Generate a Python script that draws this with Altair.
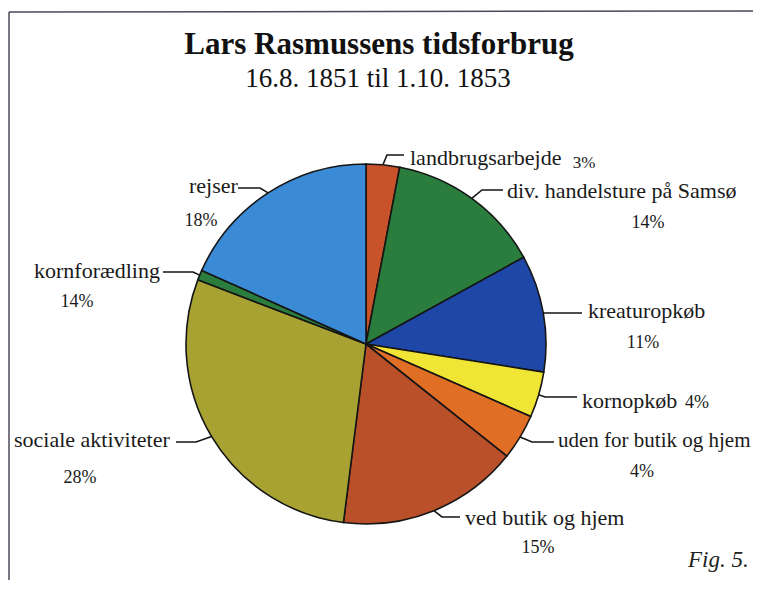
import math
import altair as alt
import pandas as pd

# ---------------- data ----------------
categories = ["landbrugsarbejde", "div. handelsture på Samsø", "kreaturopkøb", "kornopkøb",
              "uden for butik og hjem", "ved butik og hjem", "sociale aktiviteter",
              "kornforædling", "rejser"]
shares = [3.0, 14.0, 10.5, 4.1, 4.1, 16.3, 28.8, 0.9, 18.3]
pct_labels = ["3%", "14%", "11%", "4%", "4%", "15%", "28%", "14%", "18%"]
colors = ["#c8522a", "#2b7d3e", "#1f47a8", "#f0e434", "#e06e24", "#b9502a", "#a8a233",
          "#2b7d3e", "#3a8ad6"]

title_text = "Lars Rasmussens tidsforbrug"
subtitle_text = "16.8. 1851 til 1.10. 1853"
fig_text = "Fig. 5."

# ---------------- layout (page pixel coordinates) ----------------
W, H = 745, 572
OX, OY = 8, 8
CX, CY, R = 366, 344, 180
FONT = "'Liberation Serif', 'Times New Roman', Times, serif"

name_pos = [(410, 165), (507, 198), (588, 318), (582, 408), (558, 447),
            (465, 525), (14, 447), (34, 278), (189, 193)]
name_size = [22, 22, 22, 22, 21, 22, 22, 22, 22]
pct_pos = [(584, 168), (648, 228), (643, 348), (697, 408), (642, 477),
           (538, 553), (80, 483), (77, 307), (201, 226)]
pct_size = [17, 18, 18, 18, 18, 18, 18, 18, 18]
leader_elbow = [(387, 155), (482, 190), (548, 313), (545, 397), (532, 442),
                (442, 517), (196, 442), (193, 272), (260, 188)]
leader_end = [(404, 155), (503, 190), (582, 313), (577, 397), (554, 442),
              (460, 517), (176, 442), (163, 272), (238, 188)]

xs = alt.Scale(domain=[OX, OX + W], nice=False, zero=False)
ys = alt.Scale(domain=[OY, OY + H], nice=False, zero=False, reverse=True)

# ---------------- pie ----------------
pie_df = pd.DataFrame({"cat": categories, "share": shares, "idx": list(range(len(categories)))})
pie = alt.Chart(pie_df).mark_arc(outerRadius=R, stroke="#151515", strokeWidth=1.6).encode(
    theta=alt.Theta("share:Q", stack=True),
    color=alt.Color("cat:N", scale=alt.Scale(domain=categories, range=colors), legend=None),
    order=alt.Order("idx:Q"),
    x=alt.value(CX - OX),
    y=alt.value(CY - OY),
)

# ---------------- leader lines (start at slice mid-angle on the rim) ----------------
total = sum(shares)
rows = []
cum = 0.0
for i, (c, v) in enumerate(zip(categories, shares)):
    ang = 2 * math.pi * (cum + v / 2) / total
    cum += v
    ex = CX + R * math.sin(ang)
    ey = CY - R * math.cos(ang)
    pts = [(ex, ey), leader_elbow[i], leader_end[i]]
    for k, (px, py) in enumerate(pts):
        rows.append({"cat": c, "k": k, "x": px, "y": py})
lead_df = pd.DataFrame(rows)
leaders = alt.Chart(lead_df).mark_line(color="#151515", strokeWidth=1.6).encode(
    x=alt.X("x:Q", scale=xs, axis=None),
    y=alt.Y("y:Q", scale=ys, axis=None),
    detail="cat:N",
    order="k:Q",
)

# ---------------- labels ----------------
names_df = pd.DataFrame({"t": categories, "x": [p[0] for p in name_pos], "y": [p[1] for p in name_pos],
                         "s": name_size})
names = alt.Chart(names_df).mark_text(font=FONT, align="left", baseline="alphabetic",
                                      color="#1a1a1a").encode(
    x=alt.X("x:Q", scale=xs, axis=None), y=alt.Y("y:Q", scale=ys, axis=None), text="t:N",
    size=alt.Size("s:Q", scale=None, legend=None))

pct_df = pd.DataFrame({"t": pct_labels, "x": [p[0] for p in pct_pos], "y": [p[1] for p in pct_pos],
                       "s": pct_size})
pcts = alt.Chart(pct_df).mark_text(font=FONT, align="center", baseline="alphabetic",
                                   color="#1a1a1a").encode(
    x=alt.X("x:Q", scale=xs, axis=None), y=alt.Y("y:Q", scale=ys, axis=None), text="t:N",
    size=alt.Size("s:Q", scale=None, legend=None))

title_df = pd.DataFrame({"t": [title_text], "x": [379], "y": [54]})
title = alt.Chart(title_df).mark_text(font=FONT, fontSize=31, fontWeight="bold", align="center",
                                      baseline="alphabetic", color="#111").encode(
    x=alt.X("x:Q", scale=xs, axis=None), y=alt.Y("y:Q", scale=ys, axis=None), text="t:N")

sub_df = pd.DataFrame({"t": [subtitle_text], "x": [378], "y": [87]})
subtitle = alt.Chart(sub_df).mark_text(font=FONT, fontSize=27, align="center",
                                       baseline="alphabetic", color="#111").encode(
    x=alt.X("x:Q", scale=xs, axis=None), y=alt.Y("y:Q", scale=ys, axis=None), text="t:N")

fig_df = pd.DataFrame({"t": [fig_text], "x": [688], "y": [567]})
fig = alt.Chart(fig_df).mark_text(font=FONT, fontSize=23, fontStyle="italic", align="left",
                                  baseline="alphabetic", color="#222").encode(
    x=alt.X("x:Q", scale=xs, axis=None), y=alt.Y("y:Q", scale=ys, axis=None), text="t:N")

# ---------------- frame ----------------
frame_df = pd.DataFrame({"x": [9, 9], "y": [12, 12], "x2": [OX + W, 9], "y2": [11, OY + H]})
frame = alt.Chart(frame_df).mark_rule(color="#4a4a5a", strokeWidth=1.5).encode(
    x=alt.X("x:Q", scale=xs, axis=None), y=alt.Y("y:Q", scale=ys, axis=None),
    x2="x2:Q", y2="y2:Q")

chart = alt.layer(frame, pie, leaders, names, pcts, title, subtitle, fig).properties(
    width=W, height=H, padding=0,
    autosize=alt.AutoSizeParams(type="none"),
    background="white",
).configure_view(stroke=None)

chart.save("out.html", embed_options={"renderer": "svg", "actions": False})
